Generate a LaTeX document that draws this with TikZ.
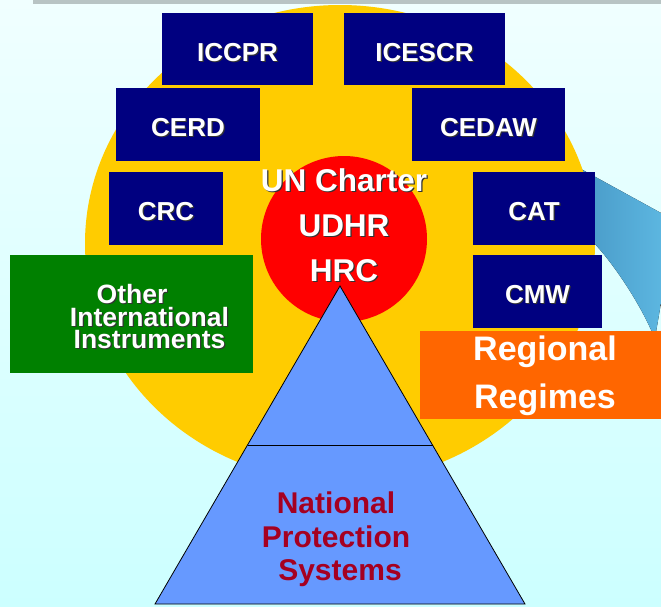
\documentclass[tikz,border=0pt]{standalone}
\usepackage{fontspec}
\setmainfont{Liberation Sans}
\definecolor{bgtop}{RGB}{240,255,255}
\definecolor{bgbot}{RGB}{204,255,255}
\definecolor{barc}{RGB}{184,196,196}
\definecolor{sunc}{RGB}{255,204,0}
\definecolor{navyc}{RGB}{0,0,128}
\definecolor{greenc}{RGB}{0,128,0}
\definecolor{orangec}{RGB}{255,102,0}
\definecolor{pyrc}{RGB}{102,153,255}
\definecolor{natc}{RGB}{165,0,33}
\definecolor{swA}{RGB}{70,150,196}
\definecolor{swB}{RGB}{92,182,224}
\newcommand{\shad}[1]{\rlap{\kern1.2pt\raisebox{-1.2pt}{\color{black!80}#1}}#1}
\tikzset{
  treaty/.style={fill=navyc, text=white, inner sep=0pt, text height=24pt, text depth=0pt,
    font=\fontsize{26}{30}\selectfont\bfseries},
  core/.style={anchor=base, text=white, inner sep=0pt, font=\fontsize{31.5}{36}\selectfont\bfseries},
  othertxt/.style={anchor=base, text=white, inner sep=0pt, font=\fontsize{26.5}{30}\selectfont\bfseries},
  regtxt/.style={anchor=base, text=white, inner sep=0pt, font=\fontsize{34}{40}\selectfont\bfseries},
  nattxt/.style={anchor=base, text=natc, inner sep=0pt, font=\fontsize{30}{36}\selectfont\bfseries}
}

\begin{document}
\begin{tikzpicture}[x=1pt,y=-1pt]

  \useasboundingbox (0,0) rectangle (661,606);
  \shade[top color=bgtop, bottom color=bgbot] (0,0) rectangle (661,606);
  \fill[barc] (33,0) rectangle (661,3.5);

  \fill[left color=swA, right color=swB] (570,163) -- (661,213) -- (661,303) -- (656,332)
    -- (652,332) .. controls (638,300) and (612,262) .. (594,243) -- cycle;
  \fill[sunc] (340,243.5) ellipse [x radius=255, y radius=238.5];

  \node[treaty, minimum width=151pt, minimum height=72pt] (iccpr) at (237.5,49) {\shad{ICCPR}};
  \node[treaty, minimum width=161pt, minimum height=72pt] (icescr) at (424.5,49) {\shad{ICESCR}};
  \node[treaty, minimum width=144pt, minimum height=73pt] (cerd) at (188,124.5) {\shad{CERD}};
  \node[treaty, minimum width=153pt, minimum height=73pt] (cedaw) at (488.5,124.5) {\shad{CEDAW}};
  \node[treaty, minimum width=114pt, minimum height=73pt] (crc) at (166,208.5) {\shad{CRC}};
  \node[treaty, minimum width=122pt, minimum height=73pt] (cat) at (534,208.5) {\shad{CAT}};
  \node[treaty, minimum width=129pt, minimum height=73pt] (cmw) at (537.5,291.5) {\shad{CMW}};

  \node[fill=greenc, minimum width=243pt, minimum height=118pt, inner sep=0pt] (otherbox) at (131.5,314) {};
  \node[othertxt] (other1) at (132,303) {\shad{Other}};
  \node[othertxt] (other2) at (149.5,326) {\shad{International}};
  \node[othertxt] (other3) at (149.5,348) {\shad{Instruments}};

  \fill[red] (344,239) circle (83);
  \filldraw[fill=pyrc, draw=black, line width=0.8pt] (340,286) -- (525,604) -- (155,604) -- cycle;
  \draw[line width=0.8pt] (247.5,445) -- (432.5,445);

  \node[fill=orangec, minimum width=241pt, minimum height=88pt, inner sep=0pt] (regbox) at (540.5,375) {};
  \node[regtxt] (reg1) at (545,360) {Regional};
  \node[regtxt] (reg2) at (545,408) {Regimes};

  \node[core] (uncharter) at (344,191.7) {\shad{UN Charter}};
  \node[core] (udhr) at (344,236.7) {\shad{UDHR}};
  \node[core] (hrc) at (344,281.7) {\shad{HRC}};

  \node[nattxt] (nat1) at (336,513) {National};
  \node[nattxt] (nat2) at (336,547) {Protection};
  \node[nattxt] (nat3) at (340,580) {Systems};

\end{tikzpicture}
\end{document}
